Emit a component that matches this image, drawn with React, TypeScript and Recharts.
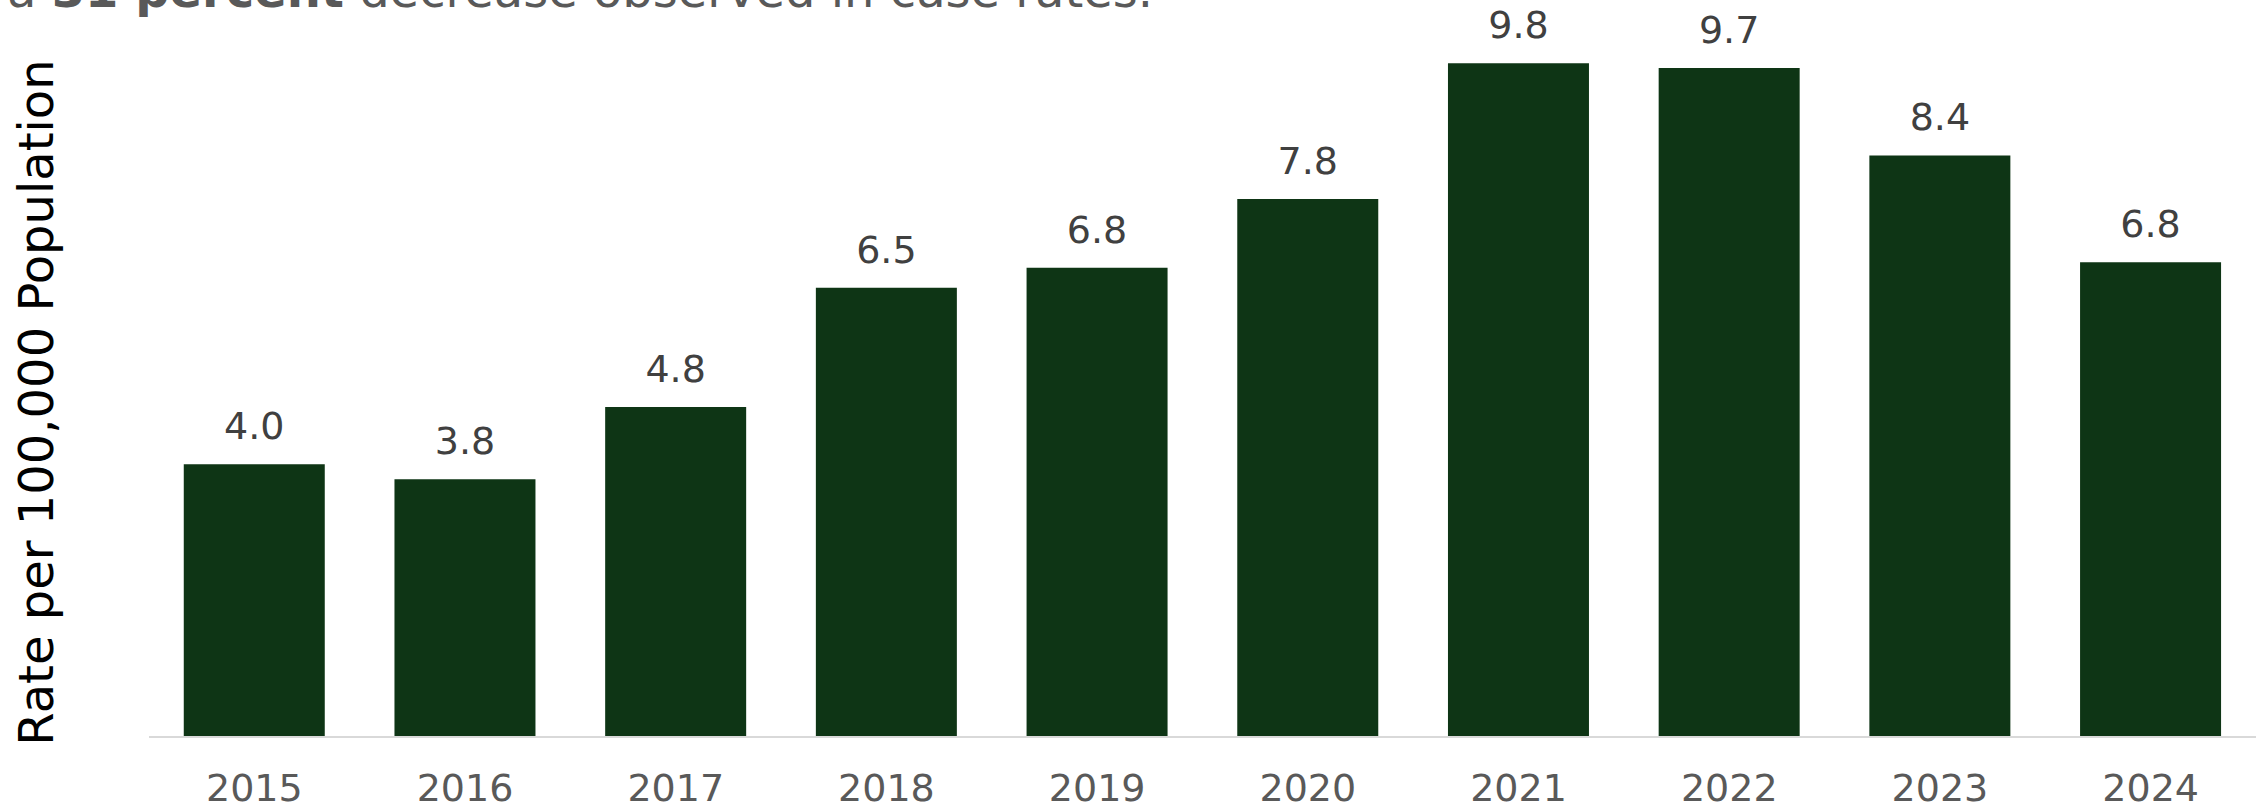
import React from 'react';
import { BarChart, Bar, XAxis, YAxis, LabelList } from 'recharts';

const years = ['2015', '2016', '2017', '2018', '2019', '2020', '2021', '2022', '2023', '2024'];
const rates = [3.96, 3.74, 4.79, 6.52, 6.81, 7.81, 9.78, 9.71, 8.44, 6.89];
const rateLabels = ['4.0', '3.8', '4.8', '6.5', '6.8', '7.8', '9.8', '9.7', '8.4', '6.8'];
const yDomain = [0, 10];
const yAxisTitle = 'Rate per 100,000 Population';
const headlineParts = ['a ', '31 percent', ' decrease observed in case rates.'];

const data = years.map((year, i) => ({ year, rate: rates[i], label: rateLabels[i] }));

const FONT = '"DejaVu Sans", Verdana, sans-serif';

const YTitle = () => (
  <text
    x={53}
    y={402.5}
    transform="rotate(-90 53 402.5)"
    textAnchor="middle"
    fontFamily={FONT}
    fontSize={48}
    fill="#000000"
  >
    {yAxisTitle}
  </text>
);

export default function App() {
  return (
    <div
      style={{
        position: 'absolute',
        left: 0,
        top: 0,
        width: 2259,
        height: 805,
        overflow: 'hidden',
        background: '#ffffff',
        fontFamily: FONT,
      }}
    >
      <BarChart
        width={2259}
        height={805}
        data={data}
        margin={{ top: 48, right: 3, bottom: 0, left: 0 }}
        barCategoryGap="16.5%"
      >
        <XAxis
          dataKey="year"
          interval={0}
          height={68}
          tickLine={false}
          tickSize={0}
          tickMargin={37}
          axisLine={{ stroke: '#d9d9d9', strokeWidth: 2 }}
          tick={{ fill: '#595959', fontSize: 38, fontFamily: FONT }}
        />
        <YAxis
          width={149}
          domain={yDomain}
          tick={false}
          tickLine={false}
          axisLine={false}
          label={{ content: () => <YTitle /> }}
        />
        <Bar dataKey="rate" fill="#0e3515" isAnimationActive={false}>
          <LabelList
            dataKey="label"
            position="top"
            offset={25}
            fill="#404040"
            fontSize={38}
            fontFamily={FONT}
          />
        </Bar>
      </BarChart>
      <svg
        width={2259}
        height={805}
        style={{ position: 'absolute', left: 0, top: 0, pointerEvents: 'none' }}
      >
        <text x={7} y={7} fontFamily={FONT} fontSize={48} fill="#595959">
          <tspan>{headlineParts[0]}</tspan>
          <tspan fontWeight="bold">{headlineParts[1]}</tspan>
          <tspan>{headlineParts[2]}</tspan>
        </text>
      </svg>
    </div>
  );
}
